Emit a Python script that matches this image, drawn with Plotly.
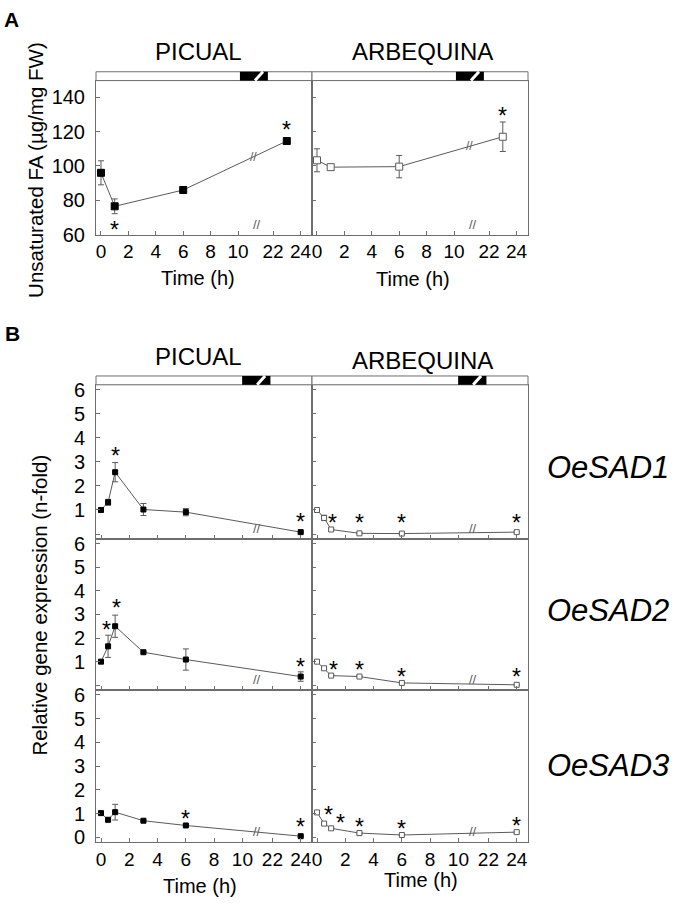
import plotly.graph_objects as go

W, H = 681, 912
FONT = "Liberation Sans, Arial, sans-serif"
GRAY = "#6e6e6e"
LINE = "#5a5a5a"

# ---------------- data ----------------
a_times = [0, 1, 6, 23]
a_picual = [96.0, 76.5, 86.0, 114.5]
a_picual_err = [7.0, 4.3, 0.8, 1.0]
a_arbequina = [103.3, 99.3, 99.6, 117.0]
a_arbequina_err = [6.7, 0.8, 6.5, 8.6]
a_picual_star_t = [1, 23]
a_picual_star_y = [63.6, 122.3]
a_arbequina_star_t = [23]
a_arbequina_star_y = [130.3]

b_times = [0, 0.5, 1, 3, 6, 24]
sad1_picual = [1.0, 1.32, 2.57, 1.02, 0.91, 0.08]
sad1_picual_err = [0.03, 0.12, 0.4, 0.25, 0.15, 0.03]
sad1_arbequina = [1.0, 0.67, 0.19, 0.03, 0.02, 0.08]
sad1_arbequina_err = [0.03, 0.11, 0.03, 0.02, 0.02, 0.03]
sad2_picual = [1.0, 1.65, 2.5, 1.4, 1.09, 0.37]
sad2_picual_err = [0.03, 0.47, 0.47, 0.04, 0.45, 0.2]
sad2_arbequina = [1.0, 0.72, 0.41, 0.37, 0.1, 0.02]
sad2_arbequina_err = [0.03, 0.04, 0.03, 0.03, 0.02, 0.02]
sad3_picual = [1.02, 0.74, 1.06, 0.7, 0.5, 0.05]
sad3_picual_err = [0.03, 0.08, 0.33, 0.03, 0.03, 0.03]
sad3_arbequina = [1.05, 0.58, 0.38, 0.18, 0.1, 0.22]
sad3_arbequina_err = [0.03, 0.03, 0.03, 0.03, 0.02, 0.03]

sad1_picual_star = ([1, 24], [3.32, 0.6])
sad1_arbequina_star = ([1.13, 3, 6, 24], [0.53, 0.53, 0.53, 0.53])
sad2_picual_star = ([0.4, 1.1, 24], [2.41, 3.35, 0.85])
sad2_arbequina_star = ([1.2, 3, 6, 24], [0.72, 0.72, 0.43, 0.43])
sad3_picual_star = ([6, 24], [0.84, 0.54])
sad3_arbequina_star = ([0.78, 1.63, 3, 6, 24], [1.02, 0.7, 0.54, 0.44, 0.58])

x_tick_hours = [0, 2, 4, 6, 8, 10, 22, 24]
x_tick_labels = ["0", "2", "4", "6", "8", "10", "22", "24"]
a_y_ticks = [60, 80, 100, 120, 140]
b_y_ticks = [0, 1, 2, 3, 4, 5, 6]
b_y_labels_top = ["", "1", "2", "3", "4", "5", "6"]
b_y_labels_bottom = ["0", "1", "2", "3", "4", "5", "6"]
genes = ["OeSAD1", "OeSAD2", "OeSAD3"]
cultivars = ["PICUAL", "ARBEQUINA"]

# broken time axis: 0-10 h linear, then gap, then 22-24 h
def make_pos(after_gap):
    def pos(h):
        if h <= 10:
            return h / 2.0
        if h >= 22:
            return after_gap + (h - 22) / 2.0
        return 5 + (h - 10) * (after_gap - 5) / 12.0
    return pos

posA = make_pos(6.28)
posB = make_pos(6.06)

def fx(p):
    return p / W

def fy(p):
    return 1 - p / H

fig = go.Figure()

# ---------- axes layout ----------
xl = (96, 312)
xr = (312, 528)
a_rows = (76, 233)
b_rows = [(386, 543), (543, 697), (697, 852)]

def xaxis_cfg(dom, rng, posf, labels, anchor):
    return dict(domain=[fx(dom[0]), fx(dom[1])], range=rng, anchor=anchor,
                tickvals=[posf(h) for h in x_tick_hours], ticktext=x_tick_labels,
                showticklabels=labels, ticks="inside", ticklen=4, tickcolor=GRAY,
                showline=True, linecolor=GRAY, linewidth=1, mirror=True,
                showgrid=False, zeroline=False,
                tickfont=dict(family=FONT, size=19, color="black"))

def yaxis_cfg(dom, rng, vals, text, labels, anchor):
    return dict(domain=[fy(dom[1]), fy(dom[0])], range=rng, anchor=anchor,
                tickvals=vals, ticktext=text, showticklabels=labels,
                ticks="inside", ticklen=4, tickcolor=GRAY,
                showline=True, linecolor=GRAY, linewidth=1, mirror=True,
                showgrid=False, zeroline=False, ticklabelstandoff=6,
                tickfont=dict(family=FONT, size=20, color="black"))

layout_axes = {}
xrA = [-0.182, 7.7]
xrB = [-0.177, 7.46]
layout_axes["xaxis"] = xaxis_cfg(xl, xrA, posA, True, "y")
layout_axes["yaxis"] = yaxis_cfg(a_rows, [60, 149.7], a_y_ticks, [str(v) for v in a_y_ticks], True, "x")
layout_axes["xaxis2"] = xaxis_cfg(xr, xrA, posA, True, "y2")
layout_axes["yaxis2"] = yaxis_cfg(a_rows, [60, 149.7], a_y_ticks, [str(v) for v in a_y_ticks], False, "x2")
for r, rows in enumerate(b_rows):
    li, ri = 3 + 2 * r, 4 + 2 * r
    last = r == 2
    ytext = b_y_labels_bottom if last else b_y_labels_top
    layout_axes[f"xaxis{li}"] = xaxis_cfg(xl, xrB, posB, last, f"y{li}")
    layout_axes[f"yaxis{li}"] = yaxis_cfg(rows, [-0.2, 6.2], b_y_ticks, ytext, True, f"x{li}")
    layout_axes[f"xaxis{ri}"] = xaxis_cfg(xr, xrB, posB, last, f"y{ri}")
    layout_axes[f"yaxis{ri}"] = yaxis_cfg(rows, [-0.2, 6.2], b_y_ticks, ytext, False, f"x{ri}")

# ---------- traces ----------
def add_series(ax, times, vals, errs, posf, filled, size):
    xs = [posf(t) for t in times]
    marker = dict(symbol="square", size=size,
                  color="black" if filled else "white",
                  line=dict(color="black" if filled else LINE, width=1))
    fig.add_trace(go.Scatter(
        x=xs, y=vals, mode="lines+markers",
        line=dict(color=LINE, width=1), marker=marker,
        error_y=dict(type="data", array=errs, visible=True, color=LINE, thickness=1, width=3),
        xaxis=f"x{ax}" if ax > 1 else "x", yaxis=f"y{ax}" if ax > 1 else "y",
        showlegend=False, hoverinfo="skip"))

annotations = []

def add_stars(ax, ts, ys, posf):
    for t, y in zip(ts, ys):
        annotations.append(dict(x=posf(t), y=y, xref=f"x{ax}" if ax > 1 else "x",
                                yref=f"y{ax}" if ax > 1 else "y", text="*", showarrow=False,
                                yshift=-2, font=dict(family=FONT, size=23, color="black")))

add_series(1, a_times, a_picual, a_picual_err, posA, True, 7)
add_series(2, a_times, a_arbequina, a_arbequina_err, posA, False, 7)
add_stars(1, a_picual_star_t, a_picual_star_y, posA)
add_stars(2, a_arbequina_star_t, a_arbequina_star_y, posA)

b_data = [
    (sad1_picual, sad1_picual_err, sad1_picual_star, sad1_arbequina, sad1_arbequina_err, sad1_arbequina_star),
    (sad2_picual, sad2_picual_err, sad2_picual_star, sad2_arbequina, sad2_arbequina_err, sad2_arbequina_star),
    (sad3_picual, sad3_picual_err, sad3_picual_star, sad3_arbequina, sad3_arbequina_err, sad3_arbequina_star),
]
for r, (pv, pe, ps, av, ae, ast) in enumerate(b_data):
    li, ri = 3 + 2 * r, 4 + 2 * r
    add_series(li, b_times, pv, pe, posB, True, 5)
    add_series(ri, b_times, av, ae, posB, False, 5)
    add_stars(li, ps[0], ps[1], posB)
    add_stars(ri, ast[0], ast[1], posB)

# break marks on A data lines (interpolated on the segment 6 h -> 23 h)
def interp_on_line(times, vals, posf, p):
    xs = [posf(t) for t in times]
    for i in range(len(xs) - 1):
        if xs[i] <= p <= xs[i + 1]:
            f = (p - xs[i]) / (xs[i + 1] - xs[i])
            return vals[i] + f * (vals[i + 1] - vals[i])
    return vals[-1]

brk_line = 5.55
for ax, vals in ((1, a_picual), (2, a_arbequina)):
    annotations.append(dict(x=brk_line, y=interp_on_line(a_times, vals, posA, brk_line),
                            xref="x" if ax == 1 else "x2", yref="y" if ax == 1 else "y2",
                            text="//", showarrow=False,
                            font=dict(family=FONT, size=12, color=LINE)))

# break marks on x axes
def axis_break(ax, p):
    annotations.append(dict(x=p, y=0, xref=f"x{ax}" if ax > 1 else "x",
                            yref=(f"y{ax}" if ax > 1 else "y") + " domain",
                            text="//", showarrow=False, yshift=1,
                            font=dict(family=FONT, size=13, color=LINE)))

axis_break(1, 5.7)
axis_break(2, 5.7)
for ax in range(3, 9):
    axis_break(ax, 5.5)

# ---------- light / dark bars ----------
shapes = []

def light_bar(ax, row_h, posf, dark_start, dark_end, slash_lo, slash_hi):
    xr_ = f"x{ax}" if ax > 1 else "x"
    yr_ = (f"y{ax}" if ax > 1 else "y") + " domain"
    h = 9.0 / row_h
    shapes.append(dict(type="rect", xref=xr_ + " domain", yref=yr_, x0=0, x1=1, y0=1, y1=1 + h,
                       line=dict(color=GRAY, width=1), fillcolor="white", layer="above"))
    shapes.append(dict(type="rect", xref=xr_, yref=yr_, x0=dark_start, x1=dark_end, y0=1, y1=1 + h,
                       line=dict(width=0), fillcolor="black", layer="above"))
    shapes.append(dict(type="line", xref=xr_, yref=yr_, x0=slash_lo, x1=slash_hi, y0=1, y1=1 + h,
                       line=dict(color="white", width=3), layer="above"))

light_bar(1, 157, posA, 5.07, 6.09, 5.62, 5.91)
light_bar(2, 157, posA, 5.07, 6.09, 5.62, 5.91)
light_bar(3, 157, posB, 4.99, 5.99, 5.52, 5.80)
light_bar(4, 157, posB, 4.99, 5.99, 5.52, 5.80)

# ---------- texts ----------
def text(x, y, t, size, angle=0, anchor="center"):
    annotations.append(dict(x=fx(x), y=fy(y), xref="paper", yref="paper", text=t,
                            showarrow=False, textangle=angle, xanchor=anchor, yanchor="middle",
                            font=dict(family=FONT, size=size, color="black")))

text(11, 14, "<b>A</b>", 21)
text(12, 334, "<b>B</b>", 21)
text(198, 46, cultivars[0], 24)
text(422, 46, cultivars[1], 24)
text(198, 357, cultivars[0], 24)
text(422, 361, cultivars[1], 24)
text(198, 277, "Time (h)", 20)
text(413, 278, "Time (h)", 20)
text(200, 897, "Time (h)", 20)
text(421, 891, "Time (h)", 20)
text(36, 167, "Unsaturated FA (µg/mg FW)", 20.5, -90)
text(40, 611, "Relative gene expression (n-fold)", 20.5, -90)
for g, yy in zip(genes, [470, 616, 774]):
    text(671, yy, f"<i>{g}</i>", 31, anchor="right")

fig.update_layout(width=W, height=H, margin=dict(l=0, r=0, t=0, b=0),
                  paper_bgcolor="white", plot_bgcolor="white",
                  annotations=annotations, shapes=shapes, showlegend=False,
                  **layout_axes)

fig.write_html("out.html", config={"displayModeBar": False},
               post_script="document.body.style.margin='0';document.body.style.overflow='hidden';")
